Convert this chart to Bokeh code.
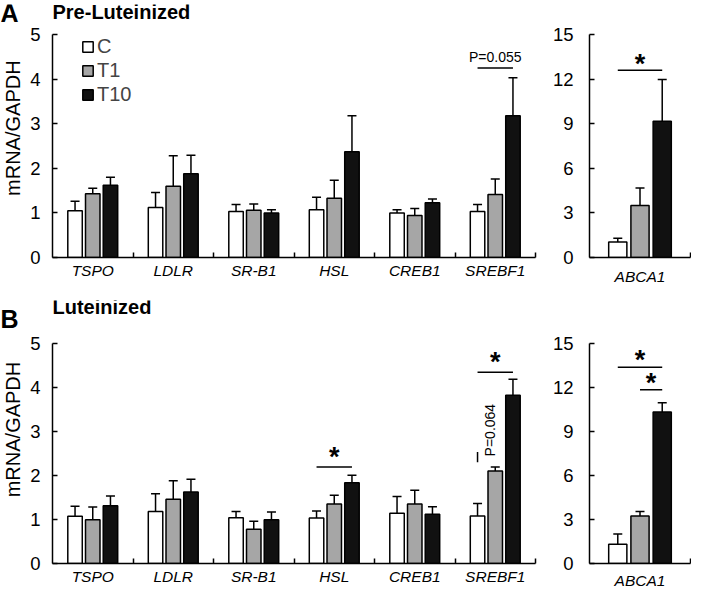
import numpy as np
from bokeh.plotting import figure
from bokeh.models import (Range1d, FixedTicker, Whisker, TeeHead, Legend, LegendItem,
                          ColumnDataSource)
from bokeh.layouts import column, row
from bokeh.embed import file_html
from bokeh.resources import INLINE
from bokeh.core.properties import value

# ---------------- data ----------------
genes = ["TSPO", "LDLR", "SR-B1", "HSL", "CREB1", "SREBF1"]
gene_abca = ["ABCA1"]
groups = ["C", "T1", "T10"]

# Pre-Luteinized (A)
pre_C = [1.05, 1.12, 1.03, 1.07, 1.00, 1.03]
pre_C_sem = [0.21, 0.34, 0.16, 0.28, 0.07, 0.16]
pre_T1 = [1.43, 1.60, 1.06, 1.33, 0.94, 1.41]
pre_T1_sem = [0.12, 0.68, 0.14, 0.40, 0.16, 0.35]
pre_T10 = [1.62, 1.88, 1.00, 2.37, 1.23, 3.18]
pre_T10_sem = [0.18, 0.41, 0.07, 0.81, 0.08, 0.85]
pre_abca = [1.05, 3.50, 9.16]
pre_abca_sem = [0.25, 1.18, 2.81]

# Luteinized (B)
lut_C = [1.07, 1.18, 1.04, 1.03, 1.14, 1.08]
lut_C_sem = [0.23, 0.40, 0.14, 0.16, 0.38, 0.28]
lut_T1 = [0.99, 1.46, 0.78, 1.35, 1.35, 2.10]
lut_T1_sem = [0.29, 0.42, 0.18, 0.20, 0.31, 0.09]
lut_T10 = [1.31, 1.62, 0.99, 1.83, 1.12, 3.82]
lut_T10_sem = [0.22, 0.29, 0.18, 0.17, 0.17, 0.36]
lut_abca = [1.31, 3.23, 10.31]
lut_abca_sem = [0.69, 0.31, 0.63]

# significance annotations: (gene, from group, to group, line y, text, text y)
sig_pre_left = [("SREBF1", "C", "T10", 4.25, "P=0.055", 4.50)]
sig_pre_right = [("ABCA1", "C", "T10", 12.6, "*", 13.0)]
sig_lut_left = [("HSL", "C", "T10", 2.19, "*", 2.42),
                ("SREBF1", "C", "T10", 4.34, "*", 4.57)]
sig_lut_right = [("ABCA1", "C", "T10", 13.36, "*", 13.85),
                 ("ABCA1", "T1", "T10", 11.83, "*", 12.3)]
# vertical P-value mark in B (gene, group, y0, y1, text)
vsig_lut = [("SREBF1", "C", 2.30, 2.53, "P=0.064")]

# ---------------- style ----------------
FONT = "Liberation Sans"
fills = {"C": "#ffffff", "T1": "#a6a6a6", "T10": "#111111"}
offsets = {"C": -0.22, "T1": 0.0, "T10": 0.22}
BAR_W = 0.18


def make_panel(cats, series, sems, yend, ytop, ystep, width, height, bl, br, bb,
               x_standoff, y_standoff):
    n = len(cats)
    p = figure(width=width, height=height, title=None,
               x_range=Range1d(0.5, n + 0.5), y_range=Range1d(0, ytop),
               output_backend="svg", toolbar_location=None,
               min_border_left=bl, min_border_right=br,
               min_border_top=4, min_border_bottom=bb)
    p.grid.visible = False
    p.outline_line_color = None
    p.background_fill_color = "white"

    xa = p.xaxis[0]
    xa.ticker = FixedTicker(ticks=list(range(1, n + 1)),
                            minor_ticks=[i + 0.5 for i in range(1, n + 1)])
    xa.major_label_overrides = {i + 1: c for i, c in enumerate(cats)}
    xa.major_tick_in = 0
    xa.major_tick_out = 0
    xa.minor_tick_in = 5
    xa.minor_tick_out = 0
    xa.minor_tick_line_width = 1.5
    xa.minor_tick_line_color = "black"
    xa.axis_line_width = 1.5
    xa.major_label_text_font = FONT
    xa.major_label_text_font_style = "italic"
    xa.major_label_text_font_size = "15.5px"
    xa.major_label_text_color = "black"
    xa.major_label_standoff = x_standoff

    ya = p.yaxis[0]
    ya.ticker = FixedTicker(ticks=list(np.arange(0, yend + 0.001, ystep)))
    ya.bounds = (0, yend)
    ya.major_tick_in = 5
    ya.major_tick_out = 0
    ya.major_tick_line_width = 1.5
    ya.minor_tick_line_color = None
    ya.axis_line_width = 1.5
    ya.major_label_text_font = FONT
    ya.major_label_text_font_size = "18.5px"
    ya.major_label_text_color = "black"
    ya.major_label_standoff = y_standoff

    xs = np.arange(1, n + 1, dtype=float)
    rends = {}
    for g in groups:
        x = xs + offsets[g]
        top = np.array(series[g])
        up = top + np.array(sems[g])
        r = p.vbar(x=x, top=top, width=BAR_W, bottom=0,
                   fill_color=fills[g], line_color="black", line_width=1.5)
        rends[g] = r
        w = Whisker(source=ColumnDataSource(dict(base=x, lower=top, upper=up)),
                    base="base", lower="lower", upper="upper", dimension="height",
                    line_color="black", line_width=1.5,
                    upper_head=TeeHead(size=9, line_width=1.5, line_color="black"),
                    lower_head=None)
        p.add_layout(w)
    return p, rends


def add_sigs(p, cats, sigs):
    for gene, g0, g1, yl, txt, yt in sigs:
        gi = cats.index(gene) + 1
        x0 = gi + offsets[g0]
        x1 = gi + offsets[g1]
        p.segment(x0=[x0], y0=[yl], x1=[x1], y1=[yl], line_color="black", line_width=1.5)
        if txt == "*":
            p.text(x=[(x0 + x1) / 2], y=[yt], text=[txt], text_font=value(FONT),
                   text_font_size="27px", text_font_style="bold",
                   text_align="center", text_baseline="middle", text_color="black")
        else:
            p.text(x=[(x0 + x1) / 2], y=[yt], text=[txt], text_font=value(FONT),
                   text_font_size="14px", text_align="center",
                   text_baseline="middle", text_color="black")


def add_heading(p, txt, y):
    p.text(x=[0.5], y=[y], text=[txt], text_font=value(FONT), text_font_size="20px",
           text_font_style="bold", text_align="left", text_baseline="alphabetic",
           text_color="black")


def label_strip(height, ytop, bb, letter, letter_y, ylab_y):
    # narrow strip (frame aligned with its panel) holding the panel letter and y title
    s = figure(width=26, height=height, title=None,
               x_range=Range1d(0, 26), y_range=Range1d(0, ytop),
               output_backend="svg", toolbar_location=None,
               x_axis_location=None, y_axis_location=None,
               min_border_left=0, min_border_right=0, min_border_top=4,
               min_border_bottom=bb)
    s.grid.visible = False
    s.outline_line_color = None
    s.text(x=[0], y=[letter_y], text=[letter], text_font=value(FONT),
           text_font_size="25px", text_font_style="bold",
           text_align="left", text_baseline="alphabetic", text_color="black")
    s.text(x=[12], y=[ylab_y], text=["mRNA/GAPDH"], angle=np.pi / 2,
           text_font=value(FONT), text_font_size="20px",
           text_align="center", text_baseline="middle", text_color="black")
    return s


TOP_A = 5.673
TOP_B = 5.968

# ---------------- panel A ----------------
sa = label_strip(296, TOP_A, 39, "A", 5.49, 2.90)
pa, ra = make_panel(genes, {"C": pre_C, "T1": pre_T1, "T10": pre_T10},
                    {"C": pre_C_sem, "T1": pre_T1_sem, "T10": pre_T10_sem},
                    5, TOP_A, 1, 511, 296, 26, 2, 39, 4, 12)
add_sigs(pa, genes, sig_pre_left)
add_heading(pa, "Pre-Luteinized", 5.50)
legend = Legend(items=[LegendItem(label=g, renderers=[ra[g]]) for g in groups],
                location=(29, 151), padding=0, margin=0, spacing=1,
                glyph_width=13, glyph_height=13, label_standoff=3,
                label_text_font=FONT, label_text_font_size="20px",
                border_line_color=None, background_fill_alpha=0)
pa.add_layout(legend)

pa2, _ = make_panel(gene_abca, {"C": [pre_abca[0]], "T1": [pre_abca[1]], "T10": [pre_abca[2]]},
                    {"C": [pre_abca_sem[0]], "T1": [pre_abca_sem[1]], "T10": [pre_abca_sem[2]]},
                    15, 3 * TOP_A, 3, 154, 296, 52, 1, 39, 10, 16)
add_sigs(pa2, gene_abca, sig_pre_right)

# ---------------- panel B ----------------
sb = label_strip(295, TOP_B, 26, "B", 5.54, 3.04)
pb, rb = make_panel(genes, {"C": lut_C, "T1": lut_T1, "T10": lut_T10},
                    {"C": lut_C_sem, "T1": lut_T1_sem, "T10": lut_T10_sem},
                    5, TOP_B, 1, 511, 295, 26, 2, 26, 4, 12)
add_sigs(pb, genes, sig_lut_left)
add_heading(pb, "Luteinized", 5.82)
for gene, g, y0, y1, txt in vsig_lut:
    gi = genes.index(gene) + 1
    xv = gi + offsets[g]
    pb.segment(x0=[xv], y0=[y0], x1=[xv], y1=[y1], line_color="black", line_width=1.5)
    pb.text(x=[gi - 0.07], y=[y0 + 0.13], text=[txt], angle=np.pi / 2,
            text_font=value(FONT), text_font_size="14px",
            text_align="left", text_baseline="middle", text_color="black")

pb2, _ = make_panel(gene_abca, {"C": [lut_abca[0]], "T1": [lut_abca[1]], "T10": [lut_abca[2]]},
                    {"C": [lut_abca_sem[0]], "T1": [lut_abca_sem[1]], "T10": [lut_abca_sem[2]]},
                    15, 3 * TOP_B, 3, 154, 295, 52, 1, 26, 8, 16)
add_sigs(pb2, gene_abca, sig_lut_right)

layout = column(row(sa, pa, pa2), row(sb, pb, pb2))
open("out.html", "w").write(file_html(layout, INLINE))
